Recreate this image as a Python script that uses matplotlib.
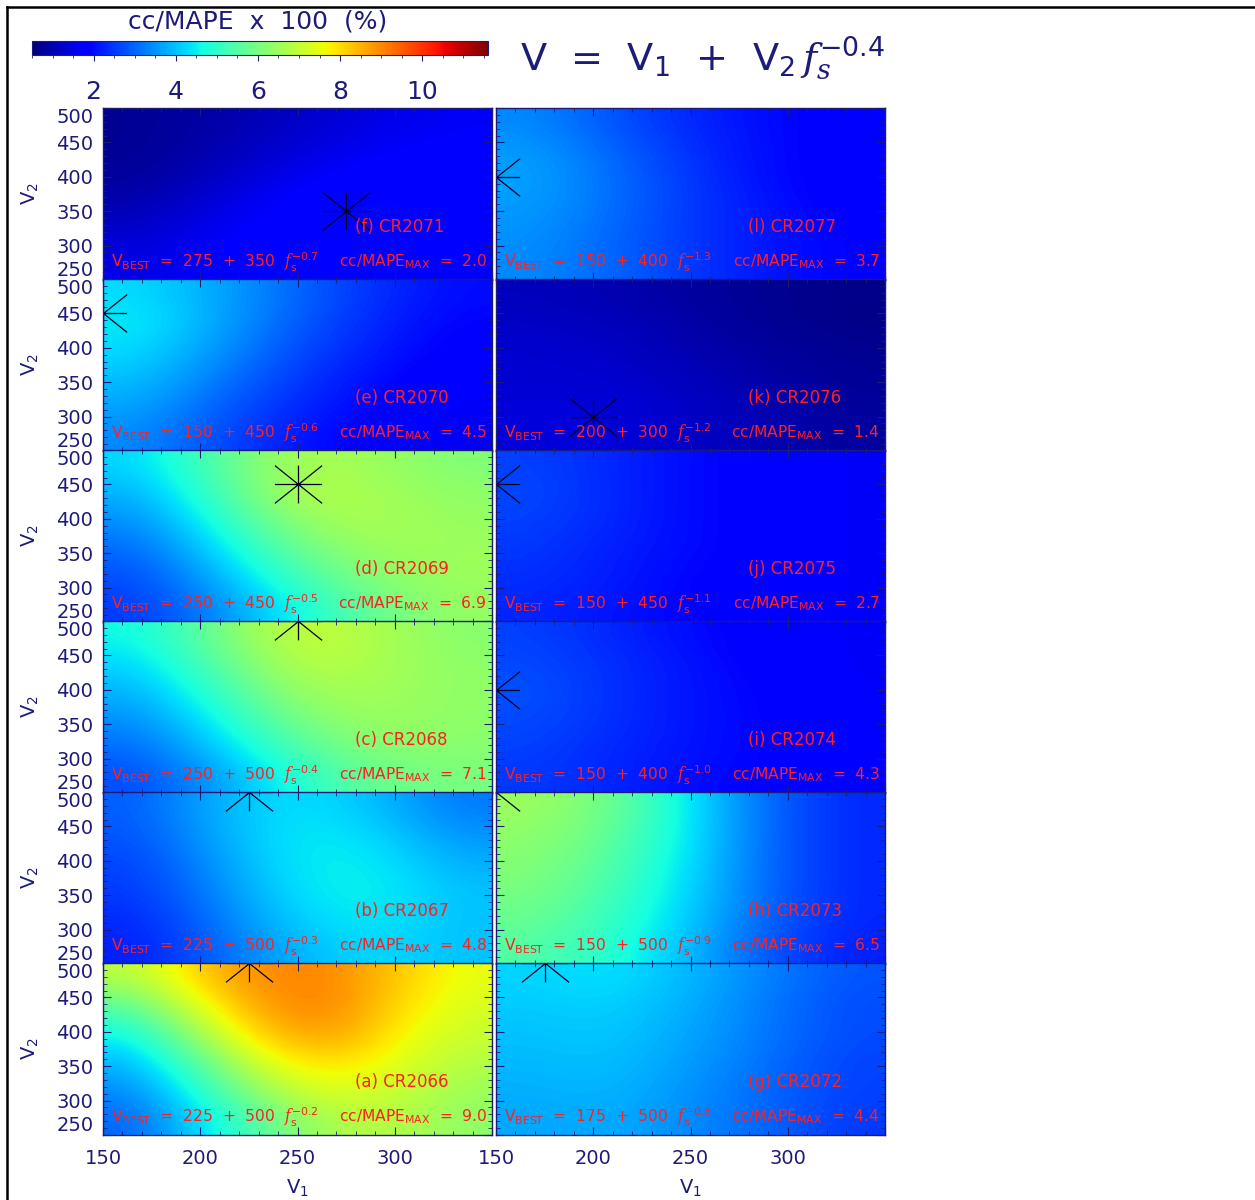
import matplotlib.pyplot as plt
import numpy as np
from matplotlib.lines import Line2D
from matplotlib.path import Path
from matplotlib.ticker import MultipleLocator

plt.rcParams["font.family"] = ["DejaVu Sans"]
plt.rcParams["mathtext.fontset"] = "custom"
plt.rcParams["mathtext.rm"] = "DejaVu Sans"
plt.rcParams["mathtext.it"] = "DejaVu Serif:italic"
plt.rcParams["mathtext.bf"] = "DejaVu Sans:bold"

W, H = 1255, 1200
NAVY = "#1c1c78"
RED = "#ff2020"

V1_RANGE = (150, 350)
V2_RANGE = (250, 500)
V2_TICKS = [250, 300, 350, 400, 450, 500]
V1_TICKS = [150, 200, 250, 300, 350]
V1_TICK_LABELS = ["150", "200", "250", "300", ""]
CBAR_RANGE = (0.5, 11.6)
CBAR_TICKS = [2, 4, 6, 8, 10]

# cc/MAPE x 100 on a coarse (V1, V2) grid; rows run V2 = 500 -> 250,
# columns run evenly across V1 = 150 -> 350
CC_2066 = [
    [6.9, 7.5, 8.4, 8.9, 9.0, 8.9, 8.4, 7.9, 7.5],
    [5.6, 6.6, 7.7, 8.6, 9.0, 8.9, 8.3, 7.7, 7.3],
    [4.6, 5.6, 6.9, 8.0, 8.6, 8.6, 8.0, 7.4, 7.1],
    [3.9, 4.7, 5.9, 7.1, 7.8, 7.9, 7.6, 7.1, 6.8],
    [3.4, 4.1, 5.1, 6.2, 7.0, 7.3, 7.1, 6.8, 6.5],
    [3.0, 3.6, 4.5, 5.4, 6.2, 6.7, 6.8, 6.6, 6.3],
]
CC_2067 = [
    [2.9, 3.9, 4.4, 4.0, 3.2],
    [2.8, 3.8, 4.5, 4.3, 3.5],
    [2.6, 3.6, 4.5, 4.5, 3.8],
    [2.5, 3.4, 4.4, 4.6, 4.0],
    [2.3, 3.2, 4.2, 4.5, 4.0],
    [2.2, 3.0, 3.9, 4.3, 4.0],
]
CC_2068 = [
    [4.6, 6.0, 7.1, 6.7, 6.2],
    [4.2, 5.6, 6.9, 6.7, 6.3],
    [3.8, 5.1, 6.5, 6.6, 6.3],
    [3.4, 4.6, 6.0, 6.5, 6.3],
    [3.0, 4.1, 5.4, 6.2, 6.2],
    [2.7, 3.6, 4.8, 5.8, 6.0],
]
CC_2069 = [
    [4.2, 5.6, 6.7, 6.5, 6.1],
    [3.8, 5.3, 6.9, 6.6, 6.3],
    [3.4, 4.8, 6.4, 6.7, 6.4],
    [3.0, 4.3, 5.8, 6.5, 6.5],
    [2.7, 3.8, 5.2, 6.2, 6.5],
    [2.5, 3.4, 4.6, 5.8, 6.4],
]
CC_2070 = [
    [4.3, 3.7, 3.0, 2.4, 2.0],
    [4.5, 3.7, 2.9, 2.3, 1.9],
    [4.3, 3.5, 2.7, 2.2, 1.8],
    [4.0, 3.2, 2.5, 2.0, 1.7],
    [3.7, 2.9, 2.3, 1.9, 1.7],
    [3.4, 2.7, 2.1, 1.8, 1.6],
]
CC_2071 = [
    [0.7, 0.9, 1.2, 1.5, 1.7],
    [0.7, 1.0, 1.4, 1.7, 1.8],
    [0.8, 1.2, 1.7, 1.9, 1.9],
    [1.0, 1.5, 1.9, 2.0, 1.9],
    [1.3, 1.7, 1.9, 1.9, 1.8],
    [1.5, 1.8, 1.9, 1.8, 1.7],
]
CC_2072 = [
    [4.2, 4.4, 3.9, 3.3, 2.8],
    [4.1, 4.2, 3.8, 3.2, 2.7],
    [4.0, 4.1, 3.7, 3.2, 2.7],
    [3.9, 4.0, 3.6, 3.1, 2.6],
    [3.8, 3.9, 3.5, 3.0, 2.6],
    [3.7, 3.8, 3.4, 3.0, 2.5],
]
CC_2073 = [
    [6.5, 5.9, 4.4, 3.0, 2.3],
    [6.3, 5.7, 4.4, 3.0, 2.3],
    [6.2, 5.5, 4.3, 3.0, 2.3],
    [6.0, 5.3, 4.2, 3.0, 2.3],
    [5.8, 5.1, 4.1, 2.9, 2.3],
    [5.5, 4.9, 3.9, 2.8, 2.2],
]
CC_2074 = [
    [2.6, 2.3, 2.0, 1.8, 1.7],
    [2.7, 2.4, 2.1, 1.8, 1.7],
    [2.8, 2.4, 2.1, 1.9, 1.7],
    [2.7, 2.4, 2.1, 1.9, 1.8],
    [2.6, 2.3, 2.1, 1.9, 1.8],
    [2.5, 2.3, 2.0, 1.9, 1.8],
]
CC_2075 = [
    [2.6, 2.3, 2.0, 1.8, 1.7],
    [2.7, 2.3, 2.0, 1.8, 1.7],
    [2.6, 2.3, 2.0, 1.8, 1.7],
    [2.5, 2.2, 2.0, 1.8, 1.7],
    [2.4, 2.2, 1.9, 1.8, 1.7],
    [2.3, 2.1, 1.9, 1.8, 1.7],
]
CC_2076 = [
    [1.1, 1.0, 0.8, 0.7, 0.6],
    [1.2, 1.1, 0.9, 0.7, 0.6],
    [1.3, 1.2, 1.0, 0.8, 0.7],
    [1.3, 1.3, 1.1, 0.9, 0.7],
    [1.4, 1.4, 1.2, 1.0, 0.8],
    [1.4, 1.4, 1.2, 1.0, 0.8],
]
CC_2077 = [
    [3.4, 2.8, 2.3, 2.0, 1.8],
    [3.6, 3.0, 2.4, 2.0, 1.8],
    [3.7, 3.1, 2.5, 2.0, 1.8],
    [3.6, 3.1, 2.5, 2.1, 1.8],
    [3.5, 3.0, 2.5, 2.1, 1.9],
    [3.4, 3.0, 2.5, 2.1, 1.9],
]

# panel order: left column top -> bottom, then right column top -> bottom
PANEL_TAGS = ["(f) CR2071", "(e) CR2070", "(d) CR2069", "(c) CR2068", "(b) CR2067", "(a) CR2066",
              "(l) CR2077", "(k) CR2076", "(j) CR2075", "(i) CR2074", "(h) CR2073", "(g) CR2072"]
PANEL_GRIDS = [CC_2071, CC_2070, CC_2069, CC_2068, CC_2067, CC_2066,
               CC_2077, CC_2076, CC_2075, CC_2074, CC_2073, CC_2072]
BEST_V1 = [275, 150, 250, 250, 225, 225, 150, 200, 150, 150, 150, 175]
BEST_V2 = [350, 450, 450, 500, 500, 500, 400, 300, 450, 400, 500, 500]
BEST_EXP = [-0.7, -0.6, -0.5, -0.4, -0.3, -0.2, -1.3, -1.2, -1.1, -1.0, -0.9, -0.8]
CC_MAX = [2.0, 4.5, 6.9, 7.1, 4.8, 9.0, 3.7, 1.4, 2.7, 4.3, 6.5, 4.4]

# eight-armed asterisk, a bit wider than tall
hh = 0.8
STAR = Path(
    [(-1, 0), (1, 0), (0, -hh), (0, hh), (-1, -hh), (1, hh), (-1, hh), (1, -hh)],
    [Path.MOVETO, Path.LINETO] * 4,
)

fig = plt.figure(figsize=(W / 100, H / 100), dpi=100)


def px_axes(x0, y0, x1, y1):
    return fig.add_axes([x0 / W, 1 - y1 / H, (x1 - x0) / W, (y1 - y0) / H])


# page frame
fig.add_artist(Line2D([7 / W, 7 / W], [0, 1 - 7 / H], color="k", lw=1.8))
fig.add_artist(Line2D([7 / W, 1], [1 - 7 / H, 1 - 7 / H], color="k", lw=1.8))

col_x = [(103, 492), (496, 885)]
row_y = [108, 279, 450, 621, 792, 963, 1135]
cmap = plt.get_cmap("jet")

im = None
for k in range(12):
    col, row = divmod(k, 6)
    x0, x1 = col_x[col]
    y0, y1 = row_y[row], row_y[row + 1]
    # one pixel of overlap keeps the stacked panels seamless
    ax = px_axes(x0, y0, x1, y1 + (1 if row < 5 else 0))
    im = ax.imshow(np.array(PANEL_GRIDS[k]), cmap=cmap, vmin=CBAR_RANGE[0], vmax=CBAR_RANGE[1],
                   extent=[*V1_RANGE, *V2_RANGE], origin="upper", aspect="auto",
                   interpolation="bicubic", interpolation_stage="data")
    ax.plot(BEST_V1[k], BEST_V2[k], marker=STAR, ms=34, mew=0.9, color="#000020",
            linestyle="none")
    ax.set_xlim(*V1_RANGE)
    ax.set_ylim(*V2_RANGE)

    ax.text(0.648, 0.31, PANEL_TAGS[k], transform=ax.transAxes, color=RED,
            fontsize=12, ha="left", va="center")
    ax.text(0.02, 0.105,
            r"V$_{\rm BEST}$  =  %d  +  %d  $f_{\rm s}^{%.1f}$" % (BEST_V1[k], BEST_V2[k], BEST_EXP[k]),
            transform=ax.transAxes, color=RED, fontsize=11.2, ha="left", va="center")
    ax.text(0.987, 0.105, r"cc/MAPE$_{\rm MAX}$  =  %.1f" % CC_MAX[k],
            transform=ax.transAxes, color=RED, fontsize=11.2, ha="right", va="center")

    ax.set_xticks(V1_TICKS)
    ax.set_yticks(V2_TICKS)
    ax.xaxis.set_minor_locator(MultipleLocator(10))
    ax.yaxis.set_minor_locator(MultipleLocator(10))
    ax.tick_params(which="both", direction="in", top=True, right=True, color=NAVY,
                   labelcolor=NAVY, labelsize=14)
    ax.tick_params(which="major", length=6, width=0.8)
    ax.tick_params(which="minor", length=3, width=0.6)
    ax.tick_params(axis="y", pad=7)
    ax.tick_params(axis="x", pad=10)
    for s in ax.spines.values():
        s.set_color(NAVY)
        s.set_linewidth(1.0)

    if col == 0:
        ax.set_yticklabels([str(v) for v in V2_TICKS])
        labels = ax.get_yticklabels()
        for lab in labels:
            lab.set_va("center_baseline")
        labels[0].set_va("bottom")
        labels[-1].set_va("top")
        fig.text(30 / W, 1 - (y0 + y1) / 2 / H, r"V$_2$", rotation=90, color=NAVY,
                 fontsize=14, ha="center", va="center")
    else:
        ax.set_yticklabels([])
    if row == 5:
        ax.set_xticklabels(V1_TICK_LABELS)
        fig.text((x0 + x1) / 2 / W, 1 - 1187 / H, r"V$_1$", color=NAVY, fontsize=14,
                 ha="center", va="center")
    else:
        ax.set_xticklabels([])

# colour bar across the top left
cax = px_axes(32, 41, 488, 55)
cb = fig.colorbar(im, cax=cax, orientation="horizontal", ticks=CBAR_TICKS)
cb.ax.xaxis.set_minor_locator(MultipleLocator(0.5))
cb.ax.tick_params(which="both", direction="out", color=NAVY, labelcolor=NAVY, labelsize=18)
cb.ax.tick_params(which="major", length=4, width=0.8, pad=14)
cb.ax.tick_params(which="minor", length=2, width=0.6)
cb.outline.set_edgecolor(NAVY)
cb.outline.set_linewidth(0.8)
fig.text(258 / W, 1 - 21 / H, "cc/MAPE  x  100  (%)", color=NAVY, fontsize=18,
         ha="center", va="center")

fig.text(520 / W, 1 - 70 / H, r"V  =  V$_1$  +  V$_2$$\,f_s^{-0.4}$", color=NAVY,
         fontsize=27.5, ha="left", va="baseline")

fig.savefig("out.png", dpi=100)
